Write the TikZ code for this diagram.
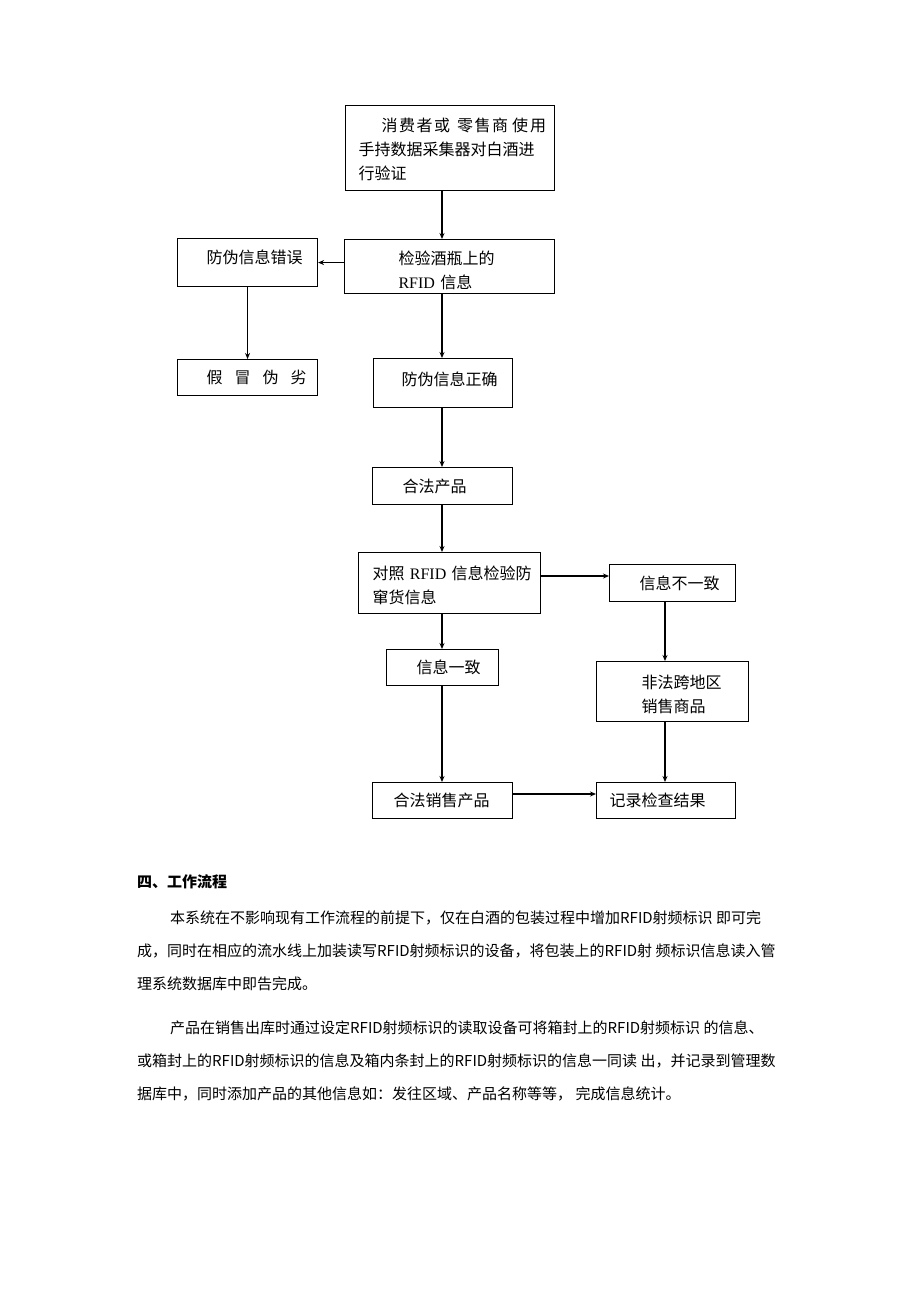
\documentclass[tikz,border=0pt]{standalone}
\usepackage{fontspec}
\setmainfont{Noto Sans CJK SC}
\newfontfamily\latinserif{Liberation Serif}
\usetikzlibrary{arrows.meta}
\newcommand{\boxfont}{\fontsize{16pt}{24pt}\selectfont}
\newcommand{\bodyfont}{\fontsize{15pt}{18pt}\selectfont}

\begin{document}
\begin{tikzpicture}[x=1pt, y=-1pt, >={Stealth[length=6pt,width=5pt]},
    box/.style={draw, line width=1.1pt, anchor=north west, align=left, inner xsep=0pt, inner ysep=0pt, font=\boxfont},
    textline/.style={anchor=base west, inner sep=0pt, font=\bodyfont},
    flow/.style={->, line width=1.1pt}]
  \useasboundingbox (0,0) rectangle (920,1302);
  % Define blocks
  \node (verify) [box, text width=209pt, minimum height=85pt] at (345,105) {\hspace*{36pt}\rule{0pt}{17pt}消\kern1.5pt费\kern1.5pt者\kern1.5pt或\kern7pt零\kern1.5pt售\kern1.5pt商\kern4pt使\kern2pt用\\\hspace*{13pt}手持数据采集器对白酒进\\\hspace*{13pt}行验证};
  \node (chk) [box, text width=210pt, minimum height=54pt] at (344,239) {\hspace*{54pt}\rule{0pt}{22pt}检验酒瓶上的\\\hspace*{54pt}{\latinserif RFID} 信息};
  \node (wrong) [box, text width=140pt, minimum height=48pt, text depth=11pt] at (177,238) {\hspace*{29pt}防伪信息错误};
  \node (fake) [box, text width=140pt, minimum height=36pt] at (177,359) {\hspace*{29pt}假\kern12pt冒\kern12pt伪\kern12pt劣};
  \node (right) [box, text width=139pt, minimum height=49pt, text depth=8pt] at (373,358) {\hspace*{28pt}防伪信息正确};
  \node (legal) [box, text width=140pt, minimum height=37pt] at (372,467) {\hspace*{30pt}合法产品};
  \node (cmp) [box, text width=182pt, minimum height=61pt] at (358,552) {\hspace*{14pt}\rule{0pt}{18pt}对照 {\latinserif RFID} 信息检验防\\\hspace*{14pt}窜货信息};
  \node (diff) [box, text width=126pt, minimum height=37pt] at (609,564) {\hspace*{30pt}信息不一致};
  \node (same) [box, text width=112pt, minimum height=36pt] at (386,649) {\hspace*{30pt}信息一致};
  \node (illegal) [box, text width=152pt, minimum height=60pt] at (596,661) {\hspace*{45pt}\rule{0pt}{20pt}非法跨地区\\\hspace*{45pt}销售商品};
  \node (sale) [box, text width=140pt, minimum height=36pt] at (372,782) {\hspace*{21pt}合法销售产品};
  \node (rec) [box, text width=139pt, minimum height=36pt] at (596,782) {\hspace*{13pt}记录检查结果};

  % Arrow lines
  \coordinate (mx) at (442,0);
  \coordinate (rx) at (665,0);
  \coordinate (dy) at (0,576);
  \coordinate (sy) at (0,794);
  \draw[flow] (verify.south -| mx) -- (chk.north -| mx);
  \draw[flow] (chk.west |- wrong.east) -- (wrong.east);
  \draw[flow] (wrong) -- (fake);
  \draw[flow] (chk.south -| mx) -- (right.north -| mx);
  \draw[flow] (right.south -| mx) -- (legal.north -| mx);
  \draw[flow] (legal.south -| mx) -- (cmp.north -| mx);
  \draw[flow] (cmp.east |- dy) -- (diff.west |- dy);
  \draw[flow] (cmp.south -| mx) -- (same.north -| mx);
  \draw[flow] (diff.south -| rx) -- (illegal.north -| rx);
  \draw[flow] (same.south -| mx) -- (sale.north -| mx);
  \draw[flow] (illegal.south -| rx) -- (rec.north -| rx);
  \draw[flow] (sale.east |- sy) -- (rec.west |- sy);

  % Text below
  \node (head) [textline, font=\bodyfont\bfseries] at (137,887) {四、工作流程};
  \node (p1a) [textline] at (170,923) {本系统在不影响现有工作流程的前提下，仅在白酒的包装过程中增加RFID射频标识 即可完};
  \node (p1b) [textline] at (137,956) {成，同时在相应的流水线上加装读写RFID射频标识的设备，将包装上的RFID射 频标识信息读入管};
  \node (p1c) [textline] at (137,989) {理系统数据库中即告完成。};
  \node (p2a) [textline] at (170,1033) {产品在销售出库时通过设定RFID射频标识的读取设备可将箱封上的RFID射频标识 的信息、};
  \node (p2b) [textline] at (137,1066) {或箱封上的RFID射频标识的信息及箱内条封上的RFID射频标识的信息一同读 出，并记录到管理数};
  \node (p2c) [textline] at (137,1099) {据库中，同时添加产品的其他信息如：发往区域、产品名称等等， 完成信息统计。};
\end{tikzpicture}
\end{document}
